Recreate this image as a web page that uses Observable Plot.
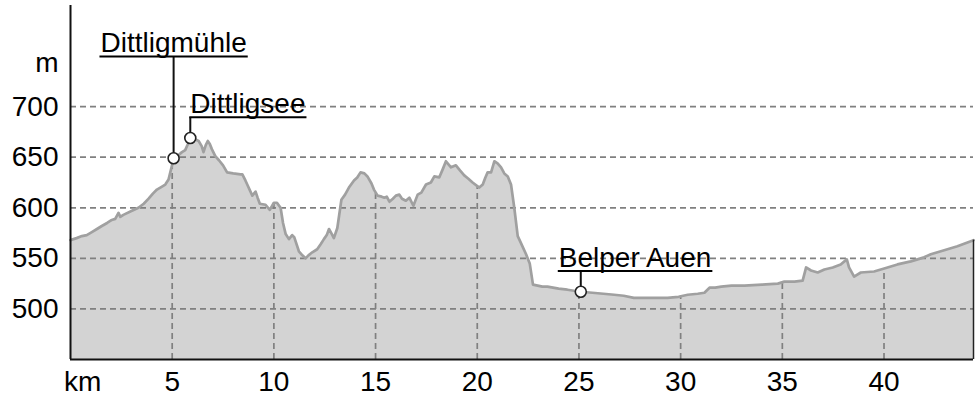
<!DOCTYPE html>
<html>
<head>
<meta charset="utf-8">
<script src="https://cdn.jsdelivr.net/npm/d3@7"></script>
<script src="https://cdn.jsdelivr.net/npm/@observablehq/plot@0.6"></script>
<style>
  html, body { margin: 0; padding: 0; background: #fff; }
  #chart svg { display: block; }
</style>
</head>
<body>
<div id="chart"></div>
<script>
// ---------- data ----------
const distanceKm = [
  0.0, 0.3, 0.56, 0.8, 1.05, 1.3, 1.54, 1.8, 2.03, 2.2, 2.36, 2.45, 2.6, 3.02, 3.34, 3.6, 3.84, 4.05, 4.25, 4.5,
  4.66, 4.82, 4.98, 5.07, 5.3, 5.48, 5.64, 5.75, 5.89, 6.1, 6.3, 6.45, 6.54, 6.65, 6.75, 6.85, 6.95, 7.12, 7.3, 7.5,
  7.7, 8.0, 8.36, 8.45, 8.6, 8.69, 8.94, 9.1, 9.2, 9.31, 9.59, 9.8, 10.0, 10.15, 10.33, 10.45, 10.58, 10.74, 10.9, 11.0,
  11.23, 11.4, 11.56, 11.7, 11.89, 12.13, 12.3, 12.46, 12.6, 12.71, 12.85, 12.95, 13.12, 13.32, 13.5, 13.69, 13.94, 14.1, 14.26, 14.45,
  14.6, 14.8, 14.92, 15.1, 15.3, 15.43, 15.55, 15.68, 15.85, 16.0, 16.17, 16.3, 16.49, 16.66, 16.86, 17.07, 17.25, 17.48, 17.72, 17.89,
  18.13, 18.3, 18.46, 18.71, 18.95, 19.15, 19.36, 19.55, 19.77, 20.1, 20.27, 20.4, 20.51, 20.68, 20.84, 21.0, 21.17, 21.33, 21.5, 21.66,
  21.82, 21.99, 22.15, 22.4, 22.58, 22.74, 23.2, 23.45, 24.0, 24.43, 25.09, 25.66, 26.2, 26.73, 27.2, 27.7, 28.37, 28.94, 29.35, 29.9,
  30.35, 30.84, 31.17, 31.42, 31.7, 32.0, 32.5, 33.14, 34.0, 34.78, 35.1, 35.6, 36.0, 36.17, 36.41, 36.74, 37.07, 37.48, 37.87, 38.17,
  38.28, 38.53, 38.86, 39.51, 40.01, 40.66, 41.32, 41.97, 42.3, 42.96, 43.61, 44.4
];
const elevationM = [
  568, 570, 572, 573, 576, 579, 582, 585, 588, 589, 595, 591, 593, 597, 600, 604, 609, 614, 618, 621,
  623, 628, 641, 649, 652, 655, 657, 662, 667, 668, 666, 661, 655, 662, 666, 663, 658, 651, 647, 642,
  635, 634, 633, 633, 627, 623, 612, 616, 610, 604, 603, 598, 605, 605, 600, 585, 574, 569, 573, 571,
  557, 553, 550, 553, 556, 559, 564, 569, 573, 579, 574, 570, 580, 608, 613, 620, 627, 630, 635, 634,
  631, 624, 618, 612, 611, 610, 611, 606, 609, 612, 613, 609, 607, 610, 602, 613, 615, 623, 625, 631,
  630, 638, 646, 640, 642, 637, 632, 629, 625, 620, 623, 630, 635, 635, 646, 644, 640, 634, 631, 623,
  600, 572, 565, 554, 545, 524, 522, 522, 520, 519, 517, 516, 515, 514, 513, 511, 511, 511, 511, 512,
  514, 515, 516, 521, 521, 522, 523, 523, 524, 525, 527, 527, 528, 541, 538, 536, 539, 541, 544, 549,
  541, 532, 536, 537, 540, 544, 547, 551, 554, 558, 562, 568
];
const xTicks = [5, 10, 15, 20, 25, 30, 35, 40];
const yTicks = [500, 550, 600, 650, 700];
const xUnit = "km";
const yUnit = "m";
const poiNames = ["Dittligmühle", "Dittligsee", "Belper Auen"];
const poiKm = [5.07, 5.89, 25.09];
const poiElev = [649, 669, 517];

// ---------- layout (not data) ----------
const poiLabelElev = [749, 689, 537];
const poiAnchor = ["middle", "start", "start"];
const poiDx = [0, 0, -22];
const FONT = "'Liberation Sans', Arial, Helvetica, sans-serif";
const GRID = {stroke: "#808080", strokeWidth: 1.7, strokeDasharray: "6,4"};

const profile = distanceKm.map((k, i) => ({km: k, elev: elevationM[i]}));
const pois = poiNames.map((name, i) => ({
  name, km: poiKm[i], elev: poiElev[i], labelElev: poiLabelElev[i]
}));

function elevAt(k) {
  const i = d3.bisector(d => d.km).left(profile, k);
  if (i <= 0) return profile[0].elev;
  if (i >= profile.length) return profile[profile.length - 1].elev;
  const a = profile[i - 1], b = profile[i];
  const t = (k - a.km) / (b.km - a.km);
  return a.elev + t * (b.elev - a.elev);
}
const vGrid = xTicks.map(k => ({km: k, top: elevAt(k)}));
const last = profile[profile.length - 1];

const plot = Plot.plot({
  width: 977,
  height: 401,
  marginLeft: 70,
  marginRight: 4,
  marginTop: 5,
  marginBottom: 42,
  style: {fontFamily: FONT, fontSize: "28px", color: "#000", background: "#fff", overflow: "visible"},
  x: {domain: [0, 44.4], ticks: xTicks, tickSize: 0, tickPadding: 12, label: null},
  y: {domain: [450, 800], ticks: yTicks, tickSize: 0, tickPadding: 12, label: null},
  marks: [
    Plot.areaY(profile, {x: "km", y1: 450, y2: "elev", fill: "#d3d3d3"}),
    Plot.ruleY(yTicks, GRID),
    Plot.ruleX(vGrid, {x: "km", y1: 450, y2: "top", ...GRID}),
    Plot.line(profile, {x: "km", y: "elev", stroke: "#a0a0a0", strokeWidth: 2.7, strokeLinejoin: "round"}),
    Plot.ruleX([last], {x: "km", y1: 450, y2: "elev", stroke: "#222", strokeWidth: 1.5}),
    Plot.ruleX([0], {stroke: "#111", strokeWidth: 2}),
    Plot.ruleY([450], {stroke: "#111", strokeWidth: 2}),
    Plot.ruleX(pois, {x: "km", y1: "elev", y2: "labelElev", stroke: "#111", strokeWidth: 2}),
    Plot.dot(pois, {x: "km", y: "elev", r: 5.5, fill: "#fff", stroke: "#222", strokeWidth: 1.6}),
    ...pois.map((p, i) => Plot.text([p], {
      x: "km", y: "labelElev", text: "name",
      textAnchor: poiAnchor[i], dx: poiDx[i], dy: -5, lineAnchor: "bottom",
      fontSize: 28, fill: "#000", className: "poi-label-" + i
    })),
    Plot.text([xUnit], {frameAnchor: "bottom-left", text: d => d, lineAnchor: "top", dy: 12, dx: -6.5, fontSize: 28}),
    Plot.text([yUnit], {frameAnchor: "left", y: () => 743, text: d => d, textAnchor: "end", dx: -12, fontSize: 28})
  ]
});

document.getElementById("chart").append(plot);

// underline each POI label, using its rendered width
const svgRect = plot.getBoundingClientRect();
const yS = plot.scale("y");
pois.forEach((p, i) => {
  const t = plot.querySelector("g.poi-label-" + i + " text");
  if (!t) return;
  const r = t.getBoundingClientRect();
  const y = yS.apply(p.labelElev);
  d3.select(plot).append("line")
    .attr("x1", r.left - svgRect.left - 1)
    .attr("x2", r.right - svgRect.left + 1)
    .attr("y1", y).attr("y2", y)
    .attr("stroke", "#000").attr("stroke-width", 2);
});
</script>
</body>
</html>
